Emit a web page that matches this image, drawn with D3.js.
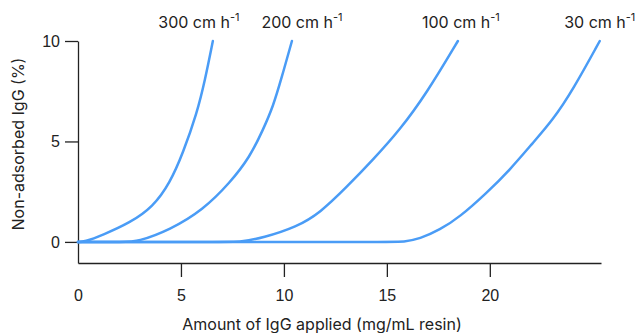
<!DOCTYPE html>
<html>
<head>
<meta charset="utf-8">
<script src="https://cdn.jsdelivr.net/npm/d3@7.8.5/dist/d3.min.js"></script>
<style>
  body { margin: 0; background: #fff; }
  svg { display: block; font-family: Inter, "Noto Sans", sans-serif; }
  .tick text { font-size: 16px; fill: #222; }
</style>
</head>
<body>
<div id="chart"></div>
<script>
// flow rates (cm/h) and breakthrough curves: [IgG applied, non-adsorbed %]
const flowRates = ["300", "200", "100", "30"];
const curve300 = [[0, 0], [0.3, 0], [1.21, 0.35], [2.52, 0.95], [3.64, 1.74], [4.47, 2.94], [5.1, 4.43], [5.78, 6.42], [6.17, 8.06], [6.55, 10]];
const curve200 = [[0, 0], [2.3, 0], [2.86, 0], [4.47, 0.6], [6.07, 1.59], [7.38, 2.94], [8.35, 4.23], [8.98, 5.57], [9.47, 6.72], [9.9, 8.21], [10.39, 10]];
const curve100 = [[0, 0], [7.3, 0], [7.86, 0], [8.98, 0.2], [10.63, 0.75], [11.75, 1.44], [13.06, 2.74], [14.32, 4.08], [15.63, 5.57], [16.94, 7.41], [18.45, 10]];
const curve30 = [[0, 0], [15.2, 0], [15.8, 0], [16.6, 0.15], [17.57, 0.6], [18.54, 1.24], [19.85, 2.44], [20.97, 3.58], [22.09, 4.93], [23.06, 6.07], [24.03, 7.56], [25.34, 10]];
const xTicks = [0, 5, 10, 15, 20];
const yTicks = [0, 5, 10];

const series = [curve300, curve200, curve100, curve30];
// label offsets relative to curve end (px)
const labelDx = [-14, 10, 3, 0];

const width = 638, height = 333;
const color = "#4a9cf6";

const svg = d3.select("#chart").append("svg")
  .attr("width", width)
  .attr("height", height);

const x = d3.scaleLinear().domain([0, 25.4]).range([78, 601]);
const y = d3.scaleLinear().domain([-1.05, 10]).range([263, 41]);

// x axis
const xAxis = svg.append("g")
  .attr("transform", `translate(0, ${y(-1.05)})`)
  .call(d3.axisBottom(x).tickValues(xTicks).tickSize(14).tickSizeOuter(0).tickPadding(13));
xAxis.selectAll(".tick").filter(d => d === 0).select("line").remove();

// y axis
svg.append("g")
  .attr("transform", `translate(${x(0)}, 0)`)
  .call(d3.axisLeft(y).tickValues(yTicks).tickSize(13).tickSizeOuter(0).tickPadding(5));

svg.selectAll(".domain, .tick line").attr("stroke", "#222").attr("stroke-width", 1.3);
svg.selectAll(".tick text").attr("fill", "#222");

const line = d3.line()
  .x(d => x(d[0]))
  .y(d => y(d[1]))
  .curve(d3.curveBasis);

svg.append("g")
  .selectAll("path")
  .data(series)
  .join("path")
  .attr("d", line)
  .attr("fill", "none")
  .attr("stroke", color)
  .attr("stroke-width", 2.5)
  .attr("stroke-linecap", "round");

// curve labels
series.forEach((s, i) => {
  const end = s[s.length - 1];
  const t = svg.append("text")
    .attr("x", x(end[0]) + labelDx[i])
    .attr("y", 28)
    .attr("text-anchor", "middle")
    .style("font-size", "16px")
    .style("fill", "#222");
  t.append("tspan").text(`${flowRates[i]} cm h`);
  t.append("tspan").attr("dy", -7).style("font-size", "11px").text("-1");
});

// axis titles
svg.append("text")
  .attr("x", width / 2 + 3)
  .attr("y", 330)
  .attr("text-anchor", "middle")
  .style("font-size", "16px")
  .style("fill", "#222")
  .text("Amount of IgG applied (mg/mL resin)");

svg.append("text")
  .attr("transform", `translate(24, 144) rotate(-90)`)
  .attr("text-anchor", "middle")
  .style("font-size", "16px")
  .style("fill", "#222")
  .text("Non-adsorbed IgG (%)");
</script>
</body>
</html>
